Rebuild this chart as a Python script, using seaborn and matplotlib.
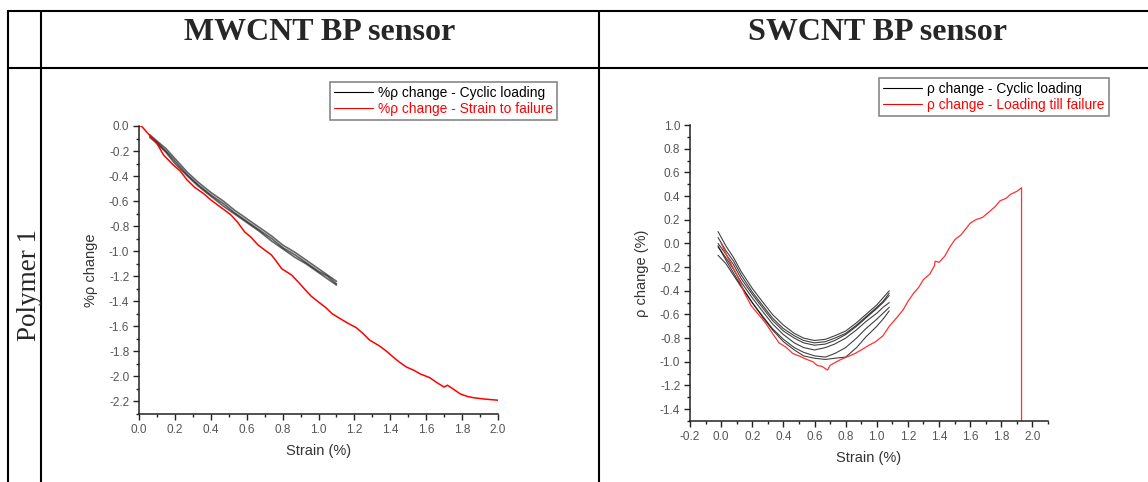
import matplotlib
matplotlib.use("Agg")
import matplotlib.pyplot as plt
from matplotlib.lines import Line2D
from matplotlib.ticker import MultipleLocator
import pandas as pd
import seaborn as sns

# ---- data ----
# MWCNT, strain to failure (red)
mw_fail_x = [0.0, 0.013, 0.06, 0.1, 0.136, 0.19, 0.23, 0.267, 0.31, 0.36, 0.4, 0.437, 0.475, 0.512,
             0.55, 0.588, 0.625, 0.663, 0.7, 0.738, 0.77, 0.795, 0.85, 0.89, 0.927, 0.96, 1.0, 1.04,
             1.077, 1.134, 1.17, 1.21, 1.25, 1.285, 1.34, 1.38, 1.416, 1.45, 1.49, 1.53, 1.567,
             1.62, 1.66, 1.70, 1.718, 1.75, 1.79, 1.83, 1.864, 1.92, 1.96, 2.0]
mw_fail_y = [0.0, 0.0, -0.075, -0.14, -0.23, -0.31, -0.36, -0.43, -0.49, -0.54, -0.59, -0.63, -0.67, -0.71,
             -0.77, -0.845, -0.89, -0.95, -0.99, -1.03, -1.09, -1.14, -1.19, -1.25, -1.31, -1.36, -1.405,
             -1.45, -1.50, -1.55, -1.58, -1.61, -1.66, -1.71, -1.757, -1.80, -1.845, -1.885, -1.925,
             -1.95, -1.98, -2.01, -2.05, -2.085, -2.07, -2.10, -2.14, -2.16, -2.17, -2.18, -2.185, -2.19]

# MWCNT, cyclic loading (black), three overlapping cycles
mw_cyc_x = [0.06, 0.1, 0.15, 0.2, 0.27, 0.33, 0.4, 0.47, 0.53, 0.6, 0.67, 0.74, 0.8, 0.87, 0.93, 1.0, 1.05, 1.1]
mw_cyc1_y = [-0.08, -0.13, -0.2, -0.28, -0.39, -0.47, -0.55, -0.62, -0.69, -0.76, -0.83, -0.9, -0.97,
             -1.03, -1.09, -1.16, -1.2, -1.26]
mw_cyc2_y = [-0.07, -0.12, -0.18, -0.26, -0.37, -0.45, -0.53, -0.6, -0.67, -0.74, -0.81, -0.88, -0.95,
             -1.01, -1.07, -1.14, -1.19, -1.24]
mw_cyc3_y = [-0.09, -0.14, -0.21, -0.3, -0.4, -0.48, -0.56, -0.64, -0.7, -0.77, -0.84, -0.92, -0.98,
             -1.05, -1.1, -1.17, -1.22, -1.27]

# SWCNT, loading till failure (red)
sw_fail_x = [0.0, 0.05, 0.106, 0.15, 0.195, 0.24, 0.284, 0.33, 0.372, 0.42, 0.46, 0.5, 0.55, 0.59,
             0.616, 0.65, 0.683, 0.7, 0.727, 0.77, 0.816, 0.86, 0.9, 0.95, 0.993, 1.04, 1.08, 1.12,
             1.17, 1.2, 1.237, 1.27, 1.30, 1.34, 1.37, 1.375, 1.40, 1.437, 1.47, 1.503, 1.54, 1.57,
             1.6, 1.636, 1.68, 1.725, 1.76, 1.792, 1.83, 1.86, 1.9, 1.93, 1.93]
sw_fail_y = [0.0, -0.14, -0.277, -0.42, -0.53, -0.6, -0.67, -0.76, -0.84, -0.88, -0.93, -0.95, -0.98,
             -1.0, -1.03, -1.04, -1.07, -1.03, -1.01, -0.98, -0.955, -0.93, -0.9, -0.86, -0.83, -0.78,
             -0.70, -0.64, -0.56, -0.49, -0.42, -0.37, -0.305, -0.26, -0.19, -0.15, -0.16, -0.107,
             -0.03, 0.034, 0.07, 0.12, 0.17, 0.2, 0.22, 0.27, 0.31, 0.36, 0.38, 0.415, 0.44, 0.47, -1.5]

# SWCNT, cyclic loading (black), six cycles
sw_cyc_x = [-0.02, 0.03, 0.08, 0.13, 0.2, 0.27, 0.33, 0.4, 0.47, 0.53, 0.6, 0.67, 0.73, 0.8, 0.87,
            0.93, 1.0, 1.04, 1.08]
sw_cyc1_y = [0.1, -0.02, -0.12, -0.24, -0.38, -0.5, -0.6, -0.69, -0.76, -0.8, -0.82, -0.81, -0.78,
             -0.74, -0.67, -0.6, -0.52, -0.46, -0.4]
sw_cyc2_y = [0.0, -0.09, -0.18, -0.3, -0.43, -0.55, -0.65, -0.74, -0.8, -0.84, -0.86, -0.85, -0.82,
             -0.77, -0.7, -0.63, -0.55, -0.5, -0.44]
sw_cyc3_y = [-0.1, -0.17, -0.27, -0.37, -0.5, -0.62, -0.72, -0.81, -0.88, -0.92, -0.95, -0.96, -0.93,
             -0.88, -0.8, -0.72, -0.64, -0.59, -0.54]
sw_cyc4_y = [-0.03, -0.12, -0.22, -0.33, -0.46, -0.58, -0.68, -0.77, -0.84, -0.88, -0.9, -0.88, -0.85,
             -0.8, -0.73, -0.66, -0.59, -0.54, -0.5]
sw_cyc5_y = [-0.02, -0.14, -0.25, -0.36, -0.5, -0.63, -0.73, -0.83, -0.9, -0.95, -0.97, -0.98, -0.97,
             -0.96, -0.88, -0.79, -0.7, -0.64, -0.57]
sw_cyc6_y = [0.05, -0.06, -0.15, -0.27, -0.41, -0.53, -0.63, -0.72, -0.78, -0.82, -0.84, -0.83, -0.8,
             -0.76, -0.69, -0.62, -0.54, -0.49, -0.42]

titles = ["MWCNT BP sensor", "SWCNT BP sensor"]
row_label = "Polymer 1"

# ---- figure ----
sns.set_style("ticks")
plt.rcParams["font.family"] = ["Liberation Sans", "DejaVu Sans"]
W, H = 1148, 482
fig = plt.figure(figsize=(W / 100, H / 100), dpi=100)


def fx(px):
    return px / W


def fy(py):
    return 1 - py / H


# table grid
lw_tab = 1.5
for yy in (11, 68):
    fig.add_artist(Line2D([fx(8), 1], [fy(yy), fy(yy)], color="black", lw=lw_tab))
for xx in (8, 41, 599):
    fig.add_artist(Line2D([fx(xx), fx(xx)], [fy(11), 0], color="black", lw=lw_tab))

fig.text(fx(320), fy(32), titles[0], ha="center", va="center", fontsize=23, fontweight="bold",
         family="Liberation Serif")
fig.text(fx(877), fy(32), titles[1], ha="center", va="center", fontsize=23, fontweight="bold",
         family="Liberation Serif")
fig.text(fx(29), fy(285), row_label, ha="center", va="center", rotation=90, fontsize=19.5,
         family="Liberation Serif")

tick_col = "#555555"


def style_axes(ax):
    sns.despine(ax=ax)
    for s in ("left", "bottom"):
        ax.spines[s].set_linewidth(1.1)
        ax.spines[s].set_color("#222222")
    ax.xaxis.set_minor_locator(MultipleLocator(0.1))
    ax.yaxis.set_minor_locator(MultipleLocator(0.1))
    ax.tick_params(which="major", direction="out", length=4, width=1, color="#222222",
                   labelsize=8.5, labelcolor=tick_col, pad=3)
    ax.tick_params(which="minor", direction="out", length=2.5, width=1, color="#222222")
    ax.set_facecolor("none")


# left panel
ax1 = fig.add_axes([fx(139), fy(414), fx(498) - fx(139), fy(126) - fy(414)])
mw_cyc = pd.DataFrame({
    "x": mw_cyc_x * 3,
    "y": mw_cyc1_y + mw_cyc2_y + mw_cyc3_y,
    "cycle": [1] * len(mw_cyc_x) + [2] * len(mw_cyc_x) + [3] * len(mw_cyc_x),
})
sns.lineplot(data=mw_cyc, x="x", y="y", units="cycle", estimator=None, sort=False,
             color="black", alpha=0.6, lw=1.2, ax=ax1)
sns.lineplot(x=mw_fail_x, y=mw_fail_y, sort=False, estimator=None, color="red", lw=1.1, ax=ax1)
ax1.set_xlim(0, 2.0)
ax1.set_ylim(-2.3, 0.0)
ax1.set_xticks([i * 0.2 for i in range(11)])
ax1.set_xticklabels([f"{i * 0.2:.1f}" for i in range(11)])
ax1.set_yticks([-i * 0.2 for i in range(12)])
ax1.set_yticklabels([f"{-i * 0.2:.1f}" if i else "0.0" for i in range(12)])
style_axes(ax1)
ax1.set_xlabel("Strain (%)", fontsize=10.5, color="#333333", labelpad=6)
ax1.set_ylabel("%ρ change", fontsize=10.5, color="#333333", labelpad=8)

# right panel
ax2 = fig.add_axes([fx(690), fy(421), fx(1048) - fx(690), fy(125) - fy(421)])
sw_list = [sw_cyc1_y, sw_cyc2_y, sw_cyc3_y, sw_cyc4_y, sw_cyc5_y, sw_cyc6_y]
sw_cyc = pd.DataFrame({
    "x": sw_cyc_x * len(sw_list),
    "y": sum(sw_list, []),
    "cycle": sum([[i] * len(sw_cyc_x) for i in range(len(sw_list))], []),
})
sns.lineplot(data=sw_cyc, x="x", y="y", units="cycle", estimator=None, sort=False,
             color="black", alpha=0.75, lw=0.8, ax=ax2)
sns.lineplot(x=sw_fail_x, y=sw_fail_y, sort=False, estimator=None, color="#ff3030", lw=0.9, ax=ax2)
ax2.set_xlim(-0.2, 2.1)
ax2.set_ylim(-1.5, 1.0)
ax2.set_xticks([-0.2 + i * 0.2 for i in range(12)])
ax2.set_xticklabels([f"{-0.2 + i * 0.2:.1f}".replace("-0.0", "0.0") for i in range(12)])
ax2.set_yticks([1.0 - i * 0.2 for i in range(13)])
ax2.set_yticklabels([f"{1.0 - i * 0.2:.1f}".replace("-0.0", "0.0") for i in range(13)])
style_axes(ax2)
ax2.set_xlabel("Strain (%)", fontsize=10.5, color="#333333", labelpad=6)
ax2.set_ylabel("ρ change (%)", fontsize=10.5, color="#333333", labelpad=8)


# legends
def add_legend(labels, x0, y0):
    handles = [Line2D([], [], color="black", lw=0.8), Line2D([], [], color="red", lw=0.8)]
    leg = fig.legend(handles, labels, loc="upper left", bbox_to_anchor=(fx(x0), fy(y0)),
                     fontsize=9.9, labelcolor=["black", "red"], frameon=True, fancybox=False,
                     edgecolor="#888888", framealpha=1, borderpad=0.3, handlelength=2.8,
                     handletextpad=0.4, labelspacing=0.1, borderaxespad=0)
    leg.get_frame().set_linewidth(1.2)
    return leg


add_legend(["%ρ change - Cyclic loading", "%ρ change - Strain to failure"], 330, 82)
add_legend(["ρ change - Cyclic loading", "ρ change - Loading till failure"], 879, 78)

fig.savefig("out.png", dpi=100)
